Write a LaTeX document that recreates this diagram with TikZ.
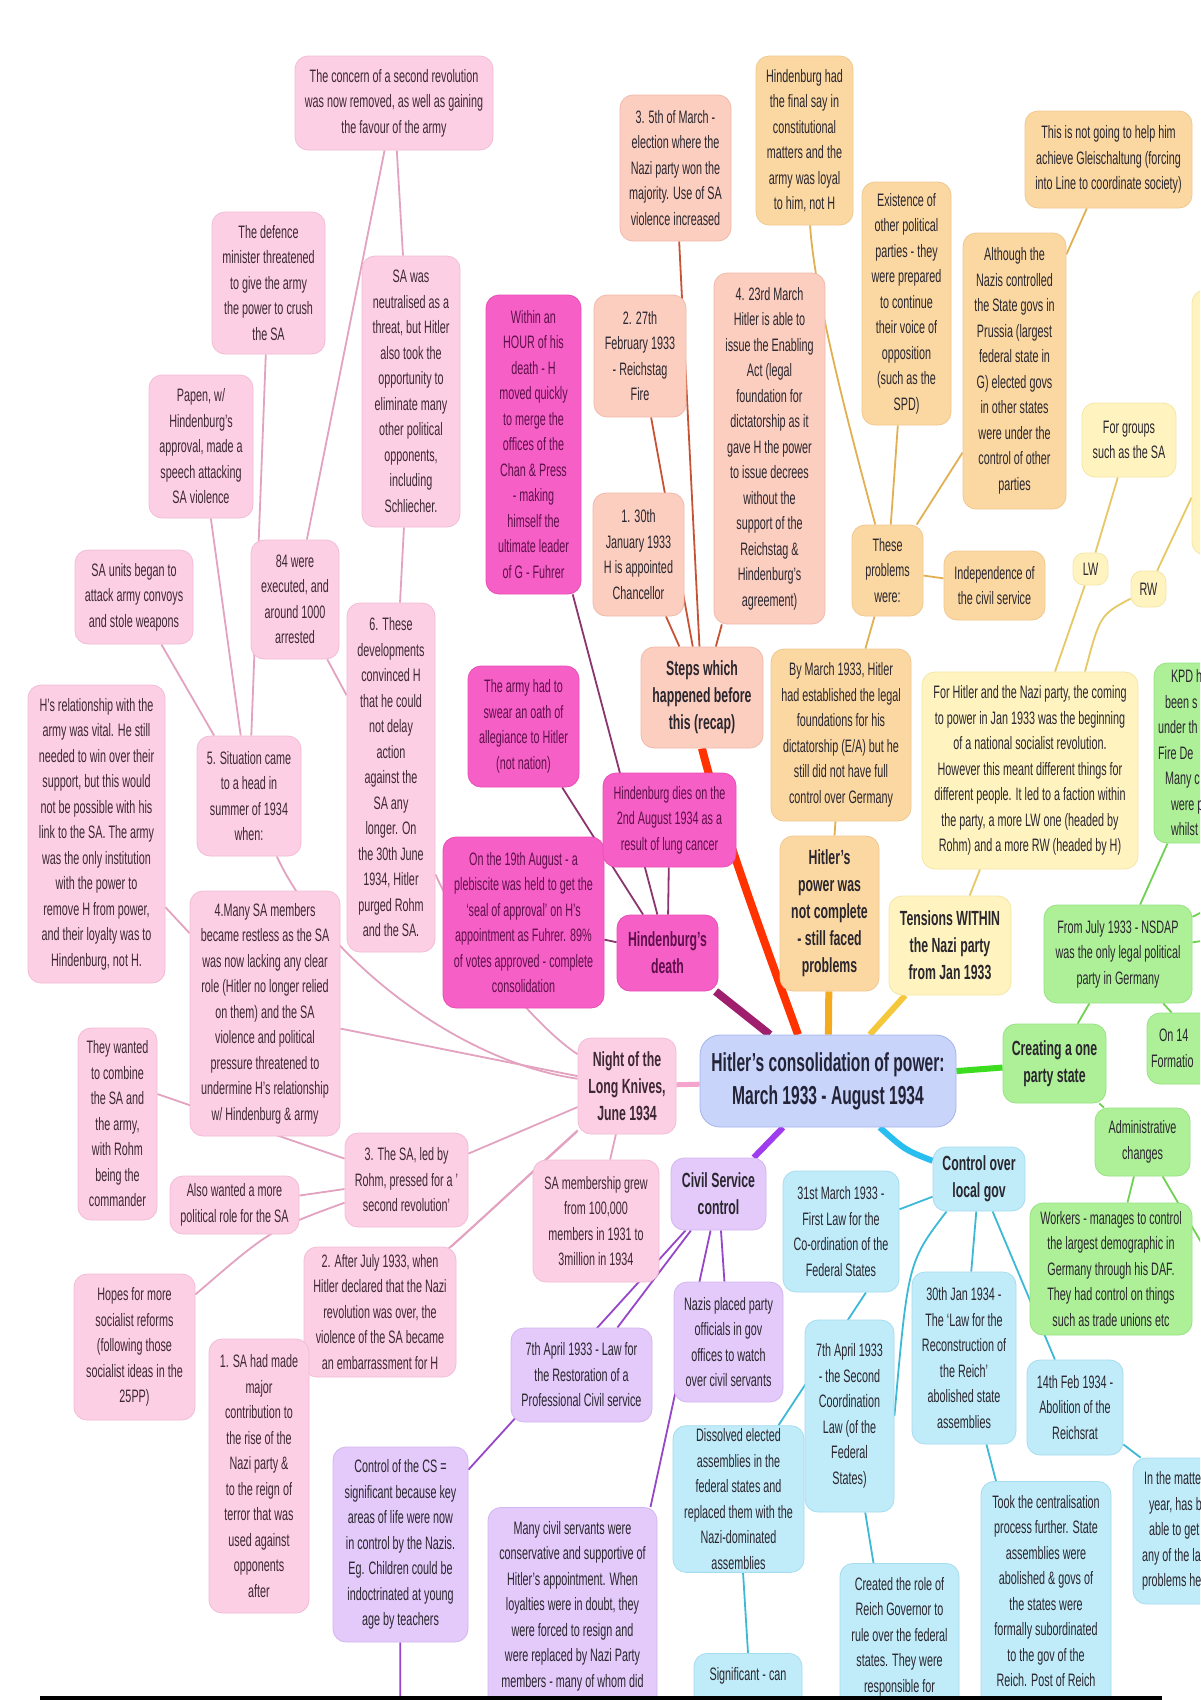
\documentclass[tikz,border=0pt]{standalone}
\usepackage{fontspec}
\setmainfont{Liberation Sans}[FakeStretch=0.6]
\pgfdeclarelayer{bg}
\pgfsetlayers{bg,main}
\definecolor{txt}{RGB}{42,38,46}
\definecolor{pinkF}{RGB}{252,207,228}\definecolor{pinkD}{RGB}{243,188,214}\definecolor{pinkT}{RGB}{62,40,54}\definecolor{pinkL}{RGB}{226,162,192}
\definecolor{hotF}{RGB}{246,96,198}\definecolor{hotD}{RGB}{232,78,182}\definecolor{hotT}{RGB}{95,15,75}\definecolor{hotL}{RGB}{140,52,112}
\definecolor{salF}{RGB}{252,206,192}\definecolor{salD}{RGB}{240,186,170}\definecolor{salL}{RGB}{200,82,52}
\definecolor{orF}{RGB}{251,216,162}\definecolor{orD}{RGB}{240,200,142}\definecolor{orL}{RGB}{226,176,82}
\definecolor{yelF}{RGB}{255,244,192}\definecolor{yelD}{RGB}{244,230,166}\definecolor{yelL}{RGB}{230,200,100}
\definecolor{grF}{RGB}{174,240,152}\definecolor{grD}{RGB}{150,226,130}\definecolor{grL}{RGB}{110,210,80}
\definecolor{cyF}{RGB}{192,236,250}\definecolor{cyD}{RGB}{166,220,240}\definecolor{cyL}{RGB}{60,185,215}
\definecolor{lavF}{RGB}{228,202,250}\definecolor{lavD}{RGB}{210,182,240}\definecolor{lavL}{RGB}{150,70,200}
\definecolor{hubF}{RGB}{200,212,250}\definecolor{hubD}{RGB}{165,180,235}\definecolor{hubT}{RGB}{35,35,55}
\definecolor{bNight}{RGB}{245,165,205}\definecolor{bHind}{RGB}{160,30,110}\definecolor{bSteps}{RGB}{255,50,0}
\definecolor{bPower}{RGB}{245,170,30}\definecolor{bTens}{RGB}{245,200,60}\definecolor{bCreat}{RGB}{60,220,30}
\definecolor{bLocal}{RGB}{40,190,240}\definecolor{bCivil}{RGB}{160,60,240}
\tikzset{
 nbase/.style={draw, rounded corners=13pt, align=center, inner xsep=4pt, inner ysep=3pt, line width=0.8pt, font=\fontsize{18}{25.5}\selectfont},
 hd/.style={font=\bfseries\fontsize{20.5}{27}\selectfont},
 pinkb/.style={nbase, fill=pinkF, draw=pinkD, text=pinkT},
 hotb/.style={nbase, fill=hotF, draw=hotD, text=hotT},
 salb/.style={nbase, fill=salF, draw=salD, text=txt},
 orb/.style={nbase, fill=orF, draw=orD, text=txt},
 yelb/.style={nbase, fill=yelF, draw=yelD, text=txt},
 grb/.style={nbase, fill=grF, draw=grD, text=txt},
 cyb/.style={nbase, fill=cyF, draw=cyD, text=txt},
 lavb/.style={nbase, fill=lavF, draw=lavD, text=txt},
 hubb/.style={nbase, fill=hubF, draw=hubD, text=hubT, font=\bfseries\fontsize{26}{33}\selectfont, rounded corners=20pt},
 lpink/.style={draw=pinkL, line width=1.8pt},
 lhot/.style={draw=hotL, line width=1.8pt},
 lsal/.style={draw=salL, line width=1.8pt},
 lor/.style={draw=orL, line width=1.8pt},
 lyel/.style={draw=yelL, line width=1.8pt},
 lgr/.style={draw=grL, line width=1.8pt},
 lcy/.style={draw=cyL, line width=1.8pt},
 llav/.style={draw=lavL, line width=1.8pt},
}
\newcommand\mmnode[7]{\node[#1, minimum width={#5pt-#3pt}, minimum height={#6pt-#4pt}] (#2) at ({(#3+#5)/2},{(#4+#6)/2}) {#7};}
\newcommand\cutnode[7]{\node[#1, anchor=north, minimum width={#5pt-#3pt}, inner ysep=0pt] (#2) at ({(#3+#5)/2},#4) {\parbox[c][#6pt][t]{\dimexpr #5pt-#3pt-12pt\relax}{\centering\vspace*{14pt}#7}};}
\newcommand\edgenode[7]{\node[#1, minimum width={#5pt-#3pt}, minimum height={#6pt-#4pt}, inner xsep=0pt] (#2) at ({(#3+#5)/2},{(#4+#6)/2}) {\parbox{\dimexpr #5pt-#3pt-8pt\relax}{\raggedright #7}};}
\begin{document}
\begin{tikzpicture}[x=1pt,y=-1pt]
\useasboundingbox (0,0) rectangle (1200,1700);
\begin{scope}
\clip (0,0) rectangle (1200,1697);
% ---------- Night of the Long Knives (pink)
\mmnode{pinkb}{concern}{295}{56}{493}{150}{The concern of a second revolution\\was now removed, as well as gaining\\the favour of the army}
\mmnode{pinkb}{defence}{212}{212}{325}{354}{The defence\\minister threatened\\to give the army\\the power to crush\\the SA}
\mmnode{pinkb}{neutral}{362}{256}{460}{527}{SA was\\neutralised as a\\threat, but Hitler\\also took the\\opportunity to\\eliminate many\\other political\\opponents,\\including\\Schliecher.}
\mmnode{pinkb}{papen}{149}{375}{253}{518}{Papen, w/\\Hindenburg's\\approval, made a\\speech attacking\\SA violence}
\mmnode{pinkb}{saunits}{75}{550}{193}{644}{SA units began to\\attack army convoys\\and stole weapons}
\mmnode{pinkb}{eightyfour}{251}{540}{339}{659}{84 were\\executed, and\\around 1000\\arrested}
\mmnode{pinkb}{sixthese}{347}{603}{435}{952}{6. These\\developments\\convinced H\\that he could\\not delay\\action\\against the\\SA any\\longer. On\\the 30th June\\1934, Hitler\\purged Rohm\\and the SA.}
\mmnode{pinkb}{hrel}{28}{685}{165}{983}{H's relationship with the\\army was vital. He still\\needed to win over their\\support, but this would\\not be possible with his\\link to the SA. The army\\was the only institution\\with the power to\\remove H from power,\\and their loyalty was to\\Hindenburg, not H.}
\mmnode{pinkb}{situation}{197}{736}{301}{856}{5. Situation came\\to a head in\\summer of 1934\\when:}
\mmnode{pinkb}{many}{190}{891}{340}{1136}{4.Many SA members\\became restless as the SA\\was now lacking any clear\\role (Hitler no longer relied\\on them) and the SA\\violence and political\\pressure threatened to\\undermine H's relationship\\w/ Hindenburg \& army}
\mmnode{pinkb}{theywanted}{78}{1028}{157}{1220}{They wanted\\to combine\\the SA and\\the army,\\with Rohm\\being the\\commander}
\mmnode{pinkb}{alsowanted}{170}{1176}{299}{1234}{Also wanted a more\\political role for the SA}
\mmnode{pinkb}{threesa}{345}{1133}{468}{1227}{3. The SA, led by\\Rohm, pressed for a '\\second revolution'}
\mmnode{pinkb}{hopes}{74}{1274}{195}{1420}{Hopes for more\\socialist reforms\\(following those\\socialist ideas in the\\25PP)}
\mmnode{pinkb}{afterjuly}{304}{1247}{456}{1377}{2. After July 1933, when\\Hitler declared that the Nazi\\revolution was over, the\\violence of the SA became\\an embarrassment for H}
\mmnode{pinkb}{onesa}{209}{1339}{309}{1613}{1. SA had made\\major\\contribution to\\the rise of the\\Nazi party \&\\to the reign of\\terror that was\\used against\\opponents\\after}
\mmnode{pinkb}{samember}{533}{1160}{659}{1282}{SA membership grew\\from 100,000\\members in 1931 to\\3million in 1934}
\mmnode{pinkb,hd}{night}{578}{1038}{676}{1134}{Night of the\\Long Knives,\\June 1934}
% ---------- Hindenburg's death (hot pink)
\mmnode{hotb,hd}{hdeath}{617}{915}{718}{991}{Hindenburg's\\death}
\mmnode{hotb}{on19}{443}{837}{604}{1008}{On the 19th August - a\\plebiscite was held to get the\\`seal of approval' on H's\\appointment as Fuhrer. 89\%\\of votes approved - complete\\consolidation}
\mmnode{hotb}{hdies}{603}{773}{736}{867}{Hindenburg dies on the\\2nd August 1934 as a\\result of lung cancer}
\mmnode{hotb}{army}{468}{666}{579}{787}{The army had to\\swear an oath of\\allegiance to Hitler\\(not nation)}
\mmnode{hotb}{within}{486}{295}{581}{594}{Within an\\HOUR of his\\death - H\\moved quickly\\to merge the\\offices of the\\Chan \& Press\\- making\\himself the\\ultimate leader\\of G - Fuhrer}
% ---------- Steps (salmon)
\mmnode{salb,hd}{steps}{641}{647}{763}{748}{Steps which\\happened before\\this (recap)}
\mmnode{salb}{fifth}{620}{95}{731}{241}{3. 5th of March -\\election where the\\Nazi party won the\\majority. Use of SA\\violence increased}
\mmnode{salb}{feb}{594}{295}{686}{417}{2. 27th\\February 1933\\- Reichstag\\Fire}
\mmnode{salb}{jan}{593}{493}{684}{616}{1. 30th\\January 1933\\H is appointed\\Chancellor}
\mmnode{salb}{enabling}{714}{273}{825}{624}{4. 23rd March\\Hitler is able to\\issue the Enabling\\Act (legal\\foundation for\\dictatorship as it\\gave H the power\\to issue decrees\\without the\\support of the\\Reichstag \&\\Hindenburg's\\agreement)}
% ---------- Hitler's power (orange)
\mmnode{orb}{hadsay}{756}{56}{853}{225}{Hindenburg had\\the final say in\\constitutional\\matters and the\\army was loyal\\to him, not H}
\mmnode{orb}{bymarch}{771}{649}{911}{821}{By March 1933, Hitler\\had established the legal\\foundations for his\\dictatorship (E/A) but he\\still did not have full\\control over Germany}
\mmnode{orb,hd}{power}{780}{836}{879}{991}{Hitler's\\power was\\not complete\\- still faced\\problems}
\mmnode{orb}{existence}{862}{182}{951}{425}{Existence of\\other political\\parties - they\\were prepared\\to continue\\their voice of\\opposition\\(such as the\\SPD)}
\mmnode{orb}{these}{852}{525}{923}{616}{These\\problems\\were:}
\mmnode{orb}{indep}{944}{551}{1045}{620}{Independence of\\the civil service}
\mmnode{orb}{although}{963}{233}{1066}{509}{Although the\\Nazis controlled\\the State govs in\\Prussia (largest\\federal state in\\G) elected govs\\in other states\\were under the\\control of other\\parties}
\mmnode{orb}{notgoing}{1025}{111}{1192}{208}{This is not going to help him\\achieve Gleischaltung (forcing\\into Line to coordinate society)}
% ---------- Tensions (yellow)
\mmnode{yelb}{forgroups}{1082}{403}{1176}{477}{For groups\\such as the SA}
\mmnode{yelb, rounded corners=11pt}{lw}{1073}{553}{1108}{585}{LW}
\mmnode{yelb, rounded corners=11pt}{rw}{1131}{571}{1166}{607}{RW}
\mmnode{yelb}{forhitler}{922}{672}{1138}{869}{For Hitler and the Nazi party, the coming\\to power in Jan 1933 was the beginning\\of a national socialist revolution.\\However this meant different things for\\different people. It led to a faction within\\the party, a more LW one (headed by\\Rohm) and a more RW (headed by H)}
\mmnode{yelb,hd}{tensions}{889}{896}{1011}{995}{Tensions WITHIN\\the Nazi party\\from Jan 1933}
\mmnode{yelb}{rightyellow}{1192}{290}{1262}{555}{}
% ---------- One party state (green)
\edgenode{grb}{kpd}{1154}{663}{1262}{843}{\hspace*{13pt}KPD h\\\hspace*{7pt}been s\\under th\\Fire De\\\hspace*{7pt}Many c\\\hspace*{13pt}were p\\\hspace*{13pt}whilst}
\mmnode{grb}{fromjuly}{1044}{905}{1192}{1003}{From July 1933 - NSDAP\\was the only legal political\\party in Germany}
\mmnode{grb,hd}{creating}{1003}{1024}{1106}{1103}{Creating a one\\party state}
\edgenode{grb}{on14}{1147}{1013}{1262}{1084}{\hspace*{8pt}On 14\\Formatio}
\mmnode{grb}{admin}{1095}{1108}{1190}{1176}{Administrative\\changes}
\mmnode{grb}{workers}{1030}{1203}{1192}{1335}{Workers - manages to control\\the largest demographic in\\Germany through his DAF.\\They had control on things\\such as trade unions etc}
% ---------- Local gov (cyan)
\mmnode{cyb,hd}{localgov}{933}{1147}{1025}{1211}{Control over\\local gov}
\mmnode{cyb}{firstlaw}{783}{1171}{899}{1292}{31st March 1933 -\\First Law for the\\Co-ordination of the\\Federal States}
\mmnode{cyb}{secondlaw}{805}{1320}{894}{1512}{7th April 1933\\- the Second\\Coordination\\Law (of the\\Federal\\States)}
\mmnode{cyb}{reconstruct}{912}{1272}{1016}{1444}{30th Jan 1934 -\\The `Law for the\\Reconstruction of\\the Reich'\\abolished state\\assemblies}
\mmnode{cyb}{reichsrat}{1027}{1360}{1123}{1455}{14th Feb 1934 -\\Abolition of the\\Reichsrat}
\edgenode{cyb}{inmatter}{1133}{1458}{1262}{1604}{\hspace*{7pt}In the matte\\\hspace*{12pt}year, has b\\\hspace*{12pt}able to get\\\hspace*{5pt}any of the la\\\hspace*{5pt}problems he}
\mmnode{cyb}{dissolved}{673}{1429}{804}{1569}{Dissolved elected\\assemblies in the\\federal states and\\replaced them with the\\Nazi-dominated\\assemblies}
\cutnode{cyb}{created}{840}{1563}{959}{180}{Created the role of\\Reich Governor to\\rule over the federal\\states. They were\\responsible for}
\cutnode{cyb}{took}{981}{1481}{1111}{260}{Took the centralisation\\process further. State\\assemblies were\\abolished \& govs of\\the states were\\formally subordinated\\to the gov of the\\Reich. Post of Reich}
\cutnode{cyb}{significant}{694}{1653}{802}{100}{Significant - can}
% ---------- Civil service (lavender)
\mmnode{lavb,hd}{civil}{671}{1158}{766}{1230}{Civil Service\\control}
\mmnode{lavb}{nazisplaced}{674}{1282}{783}{1402}{Nazis placed party\\officials in gov\\offices to watch\\over civil servants}
\mmnode{lavb}{restoration}{511}{1328}{652}{1422}{7th April 1933 - Law for\\the Restoration of a\\Professional Civil service}
\mmnode{lavb}{controlcs}{333}{1447}{468}{1642}{Control of the CS =\\significant because key\\areas of life were now\\in control by the Nazis.\\Eg. Children could be\\indoctrinated at young\\age by teachers}
\cutnode{lavb}{manycivil}{488}{1507}{657}{240}{Many civil servants were\\conservative and supportive of\\Hitler's appointment. When\\loyalties were in doubt, they\\were forced to resign and\\were replaced by Nazi Party\\members - many of whom did}
% ---------- hub
\mmnode{hubb}{hub}{700}{1035}{956}{1127}{Hitler's consolidation of power:\\March 1933 - August 1934}
\end{scope}
\coordinate (offa) at (1240,893);
\coordinate (offb) at (1240,935);
\coordinate (offd) at (1232,1295);
\coordinate (offcs) at (400,1760);
% ---------- connectors (behind)
\begin{pgfonlayer}{bg}
\fill[white] (0,0) rectangle (1200,1700);
\begin{scope}
\clip (0,0) rectangle (1200,1697);
% pink
\draw[lpink] (concern) -- (eightyfour);
\draw[lpink] (concern) -- (neutral);
\draw[lpink] (eightyfour) -- (sixthese);
\draw[lpink] (neutral) -- (sixthese);
\draw[lpink] (defence) -- (situation);
\draw[lpink] (papen) -- (situation);
\draw[lpink] (saunits) -- (situation);
\draw[lpink] (many) -- (hrel);
\draw[lpink] (situation) .. controls (320,950) and (450,1060) .. (night);
\draw[lpink] (sixthese) .. controls (470,950) and (540,1030) .. (night);
\draw[lpink] (many) -- (night);
\draw[lpink] (threesa) -- (night);
\draw[lpink] (afterjuly) -- (night);
\draw[lpink] ([yshift=124pt]onesa.east) .. controls (380,1320) and (500,1200) .. (night);
\draw[lpink] (samember) -- (night);
\draw[lpink] ([yshift=30pt]theywanted.east) -- (threesa);
\draw[lpink] (alsowanted) -- (threesa);
\draw[lpink] (hopes) .. controls (270,1230) .. (threesa);
% hot pink
\draw[lhot] (hdeath) -- (army);
\draw[lhot] (hdeath) -- (within);
\draw[lhot] (hdeath) -- (hdies);
\draw[lhot] (hdeath) -- (on19);
% salmon
\draw[lsal] (steps) -- (jan);
\draw[lsal] (steps) -- (feb);
\draw[lsal] (steps) -- (fifth);
\draw[lsal] (steps) -- (enabling);
% orange
\draw[lor] (power) -- (bymarch);
\draw[lor] (bymarch) -- (these);
\draw[lor] (these) -- (existence);
\draw[lor] (these) -- (although);
\draw[lor] (these) -- (indep);
\draw[lor] (these) .. controls (850,430) and (815,300) .. (hadsay);
\draw[lor] (although) -- (notgoing);
% yellow
\draw[lyel] (tensions) -- ([xshift=-50pt]forhitler.south);
\draw[lyel] ([xshift=25pt]forhitler.north) -- (lw);
\draw[lyel] (lw) -- (forgroups);
\draw[lyel] ([xshift=55pt]forhitler.north) .. controls (1100,615) .. (rw);
\draw[lyel] (rw) -- (rightyellow);
% green
\draw[lgr] (creating) -- (fromjuly);
\draw[lgr] (creating) -- (admin);
\draw[lgr] (fromjuly) -- (kpd);
\draw[lgr] (fromjuly) -- (on14);
\draw[lgr] (fromjuly) -- (offa);
\draw[lgr] (fromjuly) -- (offb);
\draw[lgr] (admin) -- (workers);
\draw[lgr] (admin) -- (offd);
% cyan
\draw[lcy] (localgov) -- (firstlaw);
\draw[lcy] (localgov.225) .. controls (908,1262) .. (secondlaw.east);
\draw[lcy] (localgov) -- (reconstruct);
\draw[lcy] (localgov) -- (reichsrat);
\draw[lcy] ([xshift=25pt]firstlaw.south) -- ([xshift=40pt]dissolved.north);
\draw[lcy] (secondlaw) -- ([xshift=-26pt]created.north);
\draw[lcy] (reconstruct) -- ([xshift=-50pt]took.north);
\draw[lcy] (reichsrat) -- ([xshift=8pt]inmatter.north west);
\draw[lcy] (dissolved) -- (significant.north);
% lavender
\draw[llav] (civil) -- (nazisplaced);
\draw[llav] (civil) -- (restoration);
\draw[llav] (civil) -- (controlcs);
\draw[llav] (civil) -- ([xshift=78pt]manycivil.north);
\draw[llav] (controlcs) -- (offcs);
% main branches
\draw[line width=5pt, bNight] (hub) -- (night);
\draw[line width=8pt, bHind] (hub) -- (hdeath);
\draw[line width=8pt, bSteps] ([xshift=-30pt]hub.north) .. controls (760,930) and (720,820) .. (steps.south);
\draw[line width=7pt, bPower] (hub) -- (power);
\draw[line width=6pt, bTens] (hub) -- (tensions);
\draw[line width=6pt, bCreat] (hub) -- (creating);
\draw[line width=6pt, bLocal] (hub) .. controls (905,1150) .. (localgov);
\draw[line width=6pt, bCivil] (hub) -- (civil);
\end{scope}
\end{pgfonlayer}
\fill[black] (40,1696) rectangle (1162,1700);
\end{tikzpicture}
\end{document}
